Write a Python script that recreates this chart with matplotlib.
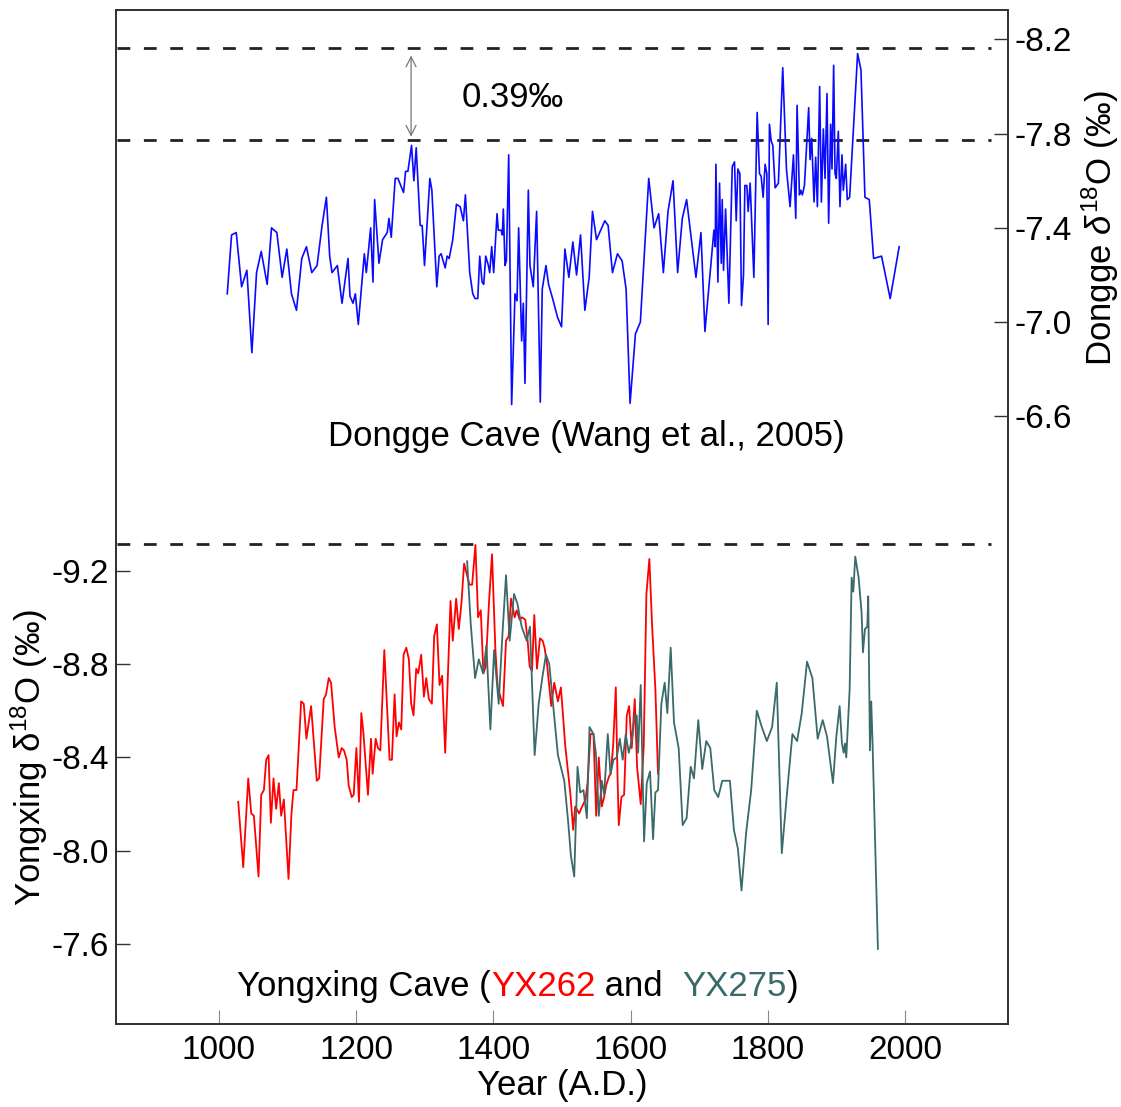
import matplotlib
matplotlib.use("Agg")
import matplotlib.pyplot as plt

plt.rcParams['font.family'] = ['Liberation Sans', 'DejaVu Sans']
plt.rcParams['mathtext.fontset'] = 'custom'
plt.rcParams['mathtext.rm'] = 'Liberation Sans'
plt.rcParams['mathtext.it'] = 'Liberation Sans:italic'

# ---------------- data ----------------
dongge_year = [1012.1, 1018.4, 1025.2, 1033.0, 1040.7, 1048.0, 1054.8, 1061.6, 1070.3, 1076.6,
               1084.4, 1092.1, 1098.9, 1105.7, 1113.0, 1120.7, 1127.5, 1135.3, 1143.0, 1150.3,
               1156.6, 1161.4, 1164.8, 1172.6, 1179.4, 1188.1, 1191.0, 1195.4, 1198.8, 1203.1,
               1211.9, 1214.8, 1221.1, 1224.5, 1226.9, 1233.2, 1238.5, 1245.3, 1247.7, 1251.1,
               1256.9, 1260.8, 1269.1, 1272.0, 1275.4, 1280.7, 1284.1, 1287.5, 1293.3, 1296.2,
               1299.6, 1307.4, 1310.3, 1317.5, 1320.9, 1323.8, 1329.7, 1332.6, 1335.5, 1340.8,
               1346.1, 1351.5, 1356.3, 1359.2, 1365.5, 1369.9, 1373.3, 1377.2, 1380.1, 1383.5,
               1385.9, 1388.8, 1392.7, 1394.6, 1397.5, 1400.4, 1405.3, 1407.2, 1411.1, 1413.0,
               1414.5, 1416.9, 1418.9, 1422.3, 1426.6, 1431.5, 1434.4, 1436.8, 1441.2, 1443.6,
               1446.0, 1450.9, 1453.3, 1458.1, 1463.0, 1468.3, 1471.2, 1476.6, 1480.4, 1486.3,
               1493.5, 1499.3, 1504.2, 1510.0, 1515.8, 1521.2, 1527.0, 1533.3, 1539.6, 1544.4,
               1550.3, 1562.4, 1567.2, 1573.5, 1580.8, 1587.6, 1593.4, 1599.2, 1607.0, 1614.2,
               1626.4, 1634.1, 1640.9, 1647.7, 1654.5, 1661.8, 1668.5, 1675.3, 1681.6, 1695.2,
               1702.5, 1708.3, 1721.4, 1723.3, 1724.3, 1727.2, 1729.6, 1732.1, 1733.5, 1735.4,
               1738.4, 1743.2, 1748.1, 1751.4, 1753.9, 1756.3, 1759.2, 1761.6, 1764.5, 1766.5,
               1769.4, 1771.3, 1774.2, 1779.6, 1784.4, 1787.8, 1790.2, 1793.1, 1796.0, 1798.5,
               1800.4, 1802.3, 1804.8, 1807.2, 1810.6, 1815.4, 1821.7, 1827.1, 1832.4, 1837.3,
               1840.7, 1842.6, 1846.0, 1847.9, 1850.3, 1853.3, 1859.5, 1861.5, 1863.9, 1867.3,
               1869.7, 1872.2, 1875.5, 1878.0, 1880.9, 1883.3, 1886.2, 1888.6, 1891.5, 1893.5,
               1895.9, 1897.9, 1899.8, 1902.7, 1905.1, 1908.0, 1910.0, 1913.4, 1915.8, 1919.2,
               1930.8, 1935.7, 1941.5, 1947.8, 1954.1, 1965.7, 1978.3, 1991.4]
dongge_d18o = [-7.12, -7.37, -7.38, -7.15, -7.22, -6.87, -7.21, -7.30, -7.16, -7.40,
               -7.38, -7.19, -7.31, -7.12, -7.05, -7.27, -7.32, -7.21, -7.24, -7.41,
               -7.53, -7.28, -7.21, -7.24, -7.08, -7.27, -7.11, -7.08, -7.12, -6.99,
               -7.29, -7.21, -7.40, -7.17, -7.52, -7.25, -7.35, -7.38, -7.44, -7.36,
               -7.61, -7.61, -7.55, -7.64, -7.64, -7.75, -7.60, -7.74, -7.41, -7.41,
               -7.24, -7.61, -7.56, -7.15, -7.28, -7.29, -7.23, -7.28, -7.27, -7.35,
               -7.50, -7.49, -7.43, -7.54, -7.21, -7.12, -7.10, -7.10, -7.28, -7.17,
               -7.16, -7.28, -7.24, -7.21, -7.32, -7.21, -7.46, -7.39, -7.39, -7.37,
               -7.48, -7.24, -7.26, -7.71, -6.65, -7.12, -7.09, -7.40, -6.92, -7.08,
               -6.74, -7.56, -7.24, -7.15, -7.47, -6.66, -7.14, -7.24, -7.16, -7.10,
               -7.02, -6.98, -7.31, -7.19, -7.34, -7.20, -7.37, -7.05, -7.19, -7.47,
               -7.35, -7.43, -7.41, -7.21, -7.29, -7.26, -7.14, -6.655, -6.95, -7.00,
               -7.61, -7.40, -7.46, -7.21, -7.47, -7.60, -7.21, -7.44, -7.52, -7.19,
               -7.38, -6.96, -7.39, -7.32, -7.67, -7.17, -7.59, -7.25, -7.52, -7.22,
               -7.48, -7.08, -7.66, -7.68, -7.43, -7.65, -7.63, -7.07, -7.20, -7.58,
               -7.58, -7.47, -7.59, -7.19, -7.89, -7.63, -7.62, -7.53, -7.67, -7.63,
               -6.99, -7.84, -7.77, -7.75, -7.57, -7.59, -8.08, -7.65, -7.49, -7.71,
               -7.44, -7.92, -7.54, -7.56, -7.54, -7.58, -7.91, -7.69, -7.78, -7.51,
               -7.70, -7.49, -8.00, -7.51, -7.82, -7.61, -7.97, -7.42, -7.84, -7.65,
               -8.09, -7.63, -7.61, -7.81, -7.49, -7.71, -7.56, -7.67, -7.52, -7.53,
               -8.14, -8.07, -7.53, -7.52, -7.27, -7.28, -7.10, -7.32]

yx262_year = [1028.1, 1035.4, 1042.7, 1047.1, 1050.9, 1057.7, 1061.6, 1065.5, 1068.9, 1072.3,
              1075.7, 1079.5, 1083.4, 1087.3, 1090.7, 1094.6, 1101.4, 1105.7, 1108.6, 1113.0,
              1119.8, 1123.6, 1127.5, 1134.3, 1142.6, 1146.0, 1152.7, 1156.1, 1160.0, 1163.4,
              1168.7, 1174.6, 1178.9, 1182.3, 1186.2, 1189.1, 1193.5, 1196.4, 1200.3, 1204.1,
              1207.5, 1210.4, 1217.2, 1221.6, 1224.0, 1228.4, 1231.8, 1235.2, 1241.0, 1248.7,
              1252.1, 1256.0, 1258.9, 1262.3, 1265.7, 1269.1, 1273.0, 1276.8, 1280.2, 1283.6,
              1287.5, 1290.4, 1294.8, 1298.7, 1302.1, 1305.9, 1310.3, 1313.7, 1317.6, 1321.5,
              1325.3, 1329.7, 1337.5, 1340.8, 1345.7, 1349.6, 1353.4, 1357.3, 1365.1, 1369.0,
              1373.8, 1377.7, 1381.6, 1385.4, 1388.8, 1393.7, 1398.0, 1402.9, 1406.3, 1414.0,
              1418.4, 1422.3, 1425.7, 1431.0, 1433.9, 1438.3, 1441.7, 1446.5, 1449.9, 1452.8,
              1456.2, 1459.6, 1463.5, 1467.9, 1471.7, 1474.6, 1478.5, 1484.3, 1488.7, 1494.0,
              1498.4, 1504.7, 1509.1, 1512.0, 1516.3, 1519.2, 1525.0, 1529.4, 1534.3, 1537.2,
              1541.5, 1545.9, 1549.8, 1553.6, 1558.0, 1561.4, 1564.3, 1568.7, 1571.1, 1574.5,
              1578.4, 1580.8, 1582.7, 1586.6, 1590.5, 1594.4, 1597.8, 1601.6, 1606.0, 1609.4,
              1614.7, 1619.1, 1623.0, 1627.3, 1631.2, 1636.1, 1639.9]
yx262_d18o = [-8.21, -7.93, -8.31, -8.16, -8.15, -7.89, -8.24, -8.26, -8.39, -8.41,
              -8.12, -8.31, -8.18, -8.29, -8.15, -8.22, -7.88, -8.16, -8.26, -8.26,
              -8.64, -8.63, -8.48, -8.62, -8.30, -8.31, -8.65, -8.67, -8.74, -8.72,
              -8.53, -8.40, -8.44, -8.43, -8.39, -8.28, -8.23, -8.24, -8.44, -8.21,
              -8.59, -8.51, -8.24, -8.48, -8.33, -8.48, -8.44, -8.43, -8.86, -8.39,
              -8.39, -8.67, -8.49, -8.55, -8.52, -8.84, -8.87, -8.82, -8.63, -8.58,
              -8.78, -8.76, -8.84, -8.66, -8.74, -8.65, -8.63, -8.92, -8.97, -8.71,
              -8.75, -8.42, -9.07, -8.90, -9.08, -8.95, -9.06, -9.23, -9.14, -9.14,
              -9.31, -9.00, -9.03, -8.76, -8.79, -9.07, -9.27, -8.86, -8.70, -8.62,
              -8.90, -8.92, -9.08, -9.00, -9.03, -8.99, -9.00, -8.99, -8.90, -8.79,
              -8.77, -9.01, -8.78, -8.91, -8.90, -8.87, -8.79, -8.62, -8.72, -8.64,
              -8.70, -8.45, -8.33, -8.25, -8.09, -8.19, -8.16, -8.19, -8.22, -8.29,
              -8.50, -8.50, -8.15, -8.40, -8.19, -8.23, -8.28, -8.32, -8.33, -8.45,
              -8.70, -8.33, -8.11, -8.23, -8.24, -8.58, -8.62, -8.44, -8.65, -8.36,
              -8.20, -8.45, -9.10, -9.25, -8.97, -8.69, -8.33]

yx275_year = [1361.7, 1367.0, 1373.3, 1378.7, 1385.0, 1389.8, 1395.6, 1401.0, 1407.7, 1413.6,
              1418.4, 1423.7, 1430.1, 1434.9, 1441.2, 1448.5, 1453.3, 1460.1, 1466.0, 1471.7,
              1476.6, 1481.4, 1494.0, 1503.3, 1509.1, 1512.9, 1517.8, 1522.6, 1526.5, 1531.3,
              1536.2, 1540.1, 1545.9, 1549.3, 1553.6, 1558.0, 1561.4, 1566.7, 1570.6, 1575.0,
              1579.8, 1584.2, 1588.5, 1592.9, 1597.3, 1602.1, 1606.0, 1608.9, 1610.9, 1614.7,
              1619.6, 1623.5, 1628.3, 1632.7, 1636.1, 1639.9, 1644.8, 1649.6, 1653.5, 1658.4,
              1663.2, 1670.0, 1675.8, 1681.6, 1687.5, 1692.3, 1698.6, 1704.4, 1710.2, 1716.1,
              1721.9, 1727.7, 1733.5, 1744.7, 1750.5, 1756.3, 1761.6, 1768.4, 1775.7, 1783.9,
              1791.2, 1798.5, 1806.2, 1813.0, 1820.3, 1828.0, 1835.8, 1842.6, 1849.4, 1857.1,
              1864.9, 1872.6, 1879.9, 1886.2, 1894.9, 1899.8, 1904.6, 1908.0, 1910.5, 1912.4,
              1914.3, 1919.2, 1922.1, 1924.5, 1927.4, 1932.3, 1936.6, 1938.6, 1941.5, 1944.9,
              1946.3, 1948.8, 1950.7, 1952.6, 1960.4]
yx275_d18o = [-9.24, -8.97, -8.74, -8.82, -8.76, -8.88, -8.52, -8.86, -8.63, -8.95,
              -9.18, -8.90, -9.10, -9.06, -8.96, -8.90, -8.96, -8.41, -8.63, -8.75,
              -8.84, -8.80, -8.41, -8.30, -8.12, -7.98, -7.89, -8.36, -8.25, -8.26,
              -8.14, -8.53, -8.50, -8.42, -8.15, -8.30, -8.24, -8.50, -8.33, -8.39,
              -8.40, -8.48, -8.39, -8.50, -8.42, -8.48, -8.58, -8.58, -8.42, -8.71,
              -8.04, -8.29, -8.34, -8.05, -8.25, -8.26, -8.63, -8.72, -8.59, -8.87,
              -8.55, -8.44, -8.11, -8.14, -8.36, -8.31, -8.56, -8.35, -8.47, -8.44,
              -8.26, -8.23, -8.30, -8.30, -8.09, -8.01, -7.83, -8.08, -8.26, -8.60,
              -8.53, -8.47, -8.53, -8.72, -7.99, -8.25, -8.50, -8.47, -8.59, -8.81,
              -8.74, -8.48, -8.56, -8.49, -8.29, -8.49, -8.62, -8.46, -8.42, -8.46,
              -8.40, -8.69, -9.17, -9.11, -9.26, -9.17, -9.02, -8.85, -8.95, -8.96,
              -9.09, -8.43, -8.64, -8.46, -7.58]

x_ticks = [1000, 1200, 1400, 1600, 1800, 2000]
yong_ticks = [-9.2, -8.8, -8.4, -8.0, -7.6]
dongge_ticks = [-8.2, -7.8, -7.4, -7.0, -6.6]
dongge_levels = [-8.162, -7.772]      # dashed reference lines (diff 0.39)
yong_level = -9.314
arrow_year = 1280

# ---------------- figure ----------------
FS = 24
FT = 25
SPINE = '#333333'
fig = plt.figure(figsize=(11.21, 11.07), dpi=100)
ax = fig.add_axes([0.1035, 0.0750, 0.7957, 0.91597])
ax2 = ax.twinx()

ax.set_xlim(850, 2150)
ax.set_ylim(-7.2585, -11.601)
ax2.set_ylim(-4.020, -8.325)

ax.plot(yx262_year, yx262_d18o, color='#ff0000', lw=1.3, zorder=3)
ax.plot(yx275_year, yx275_d18o, color='#3a6a6a', lw=1.3, zorder=3)
ax2.plot(dongge_year, dongge_d18o, color='#0a0aff', lw=1.2, zorder=3)

dash = (0, (4.6, 4.9))
for lv in dongge_levels:
    ax2.hlines(lv, 852, 2125, colors='#222222', lw=2.0, linestyles=[dash])
ax.hlines(yong_level, 852, 2125, colors='#222222', lw=2.0, linestyles=[dash])

ax2.annotate('', xy=(arrow_year, dongge_levels[0] + 0.03), xytext=(arrow_year, dongge_levels[1] - 0.015),
             arrowprops=dict(arrowstyle='<->', color='#777777', lw=0.9, mutation_scale=18,
                             shrinkA=0, shrinkB=0))

# ticks
ax.set_xticks(x_ticks)
ax.set_xticklabels([str(v) for v in x_ticks])
ax.set_yticks(yong_ticks)
ax.set_yticklabels(['%.1f' % v for v in yong_ticks])
ax2.set_yticks(dongge_ticks)
ax2.set_yticklabels(['%.1f' % v for v in dongge_ticks])

ax.tick_params(axis='x', direction='in', length=10, width=0.8, color='#888888',
               labelsize=FS, pad=8, top=False)
ax.tick_params(axis='y', direction='in', length=10, width=1.0, color=SPINE,
               labelsize=FS, pad=5, right=False)
ax2.tick_params(axis='y', direction='in', length=10, width=1.0, color=SPINE,
                labelsize=FS, pad=5)

for a in (ax, ax2):
    for sp in a.spines.values():
        sp.set_color(SPINE)
        sp.set_linewidth(1.3)

ax.set_xlabel('Year (A.D.)', fontsize=FT, labelpad=2)
ax.set_ylabel('Yongxing δ$^{18}$O (‰)', fontsize=FT, va='center', ha='center')
ax.yaxis.set_label_coords(-0.0975, 0.2623)
ax2.set_ylabel(r'Dongge $\delta^{18}$O (‰)', fontsize=FT, va='center', ha='center', rotation=90)
ax2.yaxis.set_label_coords(1.103, 0.785)

# annotations
ax.text(0.388, 0.914, '0.39‰', transform=ax.transAxes, fontsize=FT, ha='left', va='center')
ax.text(0.527, 0.579, 'Dongge Cave (Wang et al., 2005)', transform=ax.transAxes,
        fontsize=FT, ha='center', va='center')

parts = [('Yongxing Cave (', 'black'), ('YX262', '#ff0000'), (' and  ', 'black'),
         ('YX275', '#3a6a6a'), (')', 'black')]
t = ax.text(0.1357, 0.021, parts[0][0], color=parts[0][1], transform=ax.transAxes,
            fontsize=FT, ha='left', va='bottom')
for s, c in parts[1:]:
    t = ax.annotate(s, xycoords=t, xy=(1, 0), va='bottom', ha='left', color=c, fontsize=FT)

fig.savefig('out.png', dpi=100)
